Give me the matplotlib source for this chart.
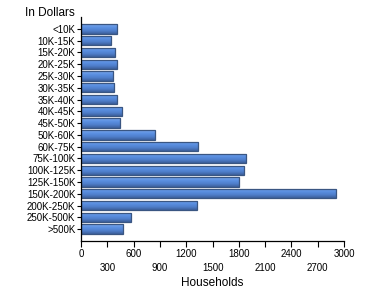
import matplotlib.pyplot as plt
import numpy as np
from matplotlib.ticker import FixedLocator
from matplotlib.colors import LinearSegmentedColormap

plt.rcParams['font.family'] = ['Liberation Sans', 'DejaVu Sans']

categories = ["<10K", "10K-15K", "15K-20K", "20K-25K", "25K-30K", "30K-35K",
              "35K-40K", "40K-45K", "45K-50K", "50K-60K", "60K-75K", "75K-100K",
              "100K-125K", "125K-150K", "150K-200K", "200K-250K", "250K-500K", ">500K"]
households = [415, 347, 392, 415, 369, 381, 415, 472, 449, 848, 1339, 1886,
              1863, 1806, 2912, 1327, 575, 483]
major_ticks = [0, 600, 1200, 1800, 2400, 3000]
minor_ticks = [300, 900, 1500, 2100, 2700]

fig = plt.figure(figsize=(3.7, 3.0), dpi=100)
ax = fig.add_axes([0.219, 0.197, 0.711, 0.746])

y = np.arange(len(categories))
bars = ax.barh(y, households, height=0.8, color="#5b8ad8", edgecolor="#3a5682", linewidth=0.9)

# shiny vertical gradient inside each bar
shine = LinearSegmentedColormap.from_list("shine", ["#7aa6ea", "#5b90e2", "#4f7fcc", "#3d609c"])
grad = np.linspace(0, 1, 32).reshape(-1, 1)
for b in bars:
    x0, y0 = b.get_x(), b.get_y()
    im = ax.imshow(grad, cmap=shine, aspect="auto", origin="lower",
                   extent=[x0, x0 + b.get_width(), y0, y0 + b.get_height()], zorder=b.get_zorder())
    im.set_clip_path(b)
    b.set_facecolor("none")
    b.set_zorder(b.get_zorder() + 0.1)

ax.set_ylim(len(categories), -1)
ax.set_xlim(0, 3000)
ax.set_yticks(y)
ax.set_yticklabels(categories, fontsize=7)

# two rows of x labels, alternating
ax.xaxis.set_major_locator(FixedLocator(major_ticks))
ax.xaxis.set_minor_locator(FixedLocator(minor_ticks))
ax.set_xticklabels([str(v) for v in major_ticks], fontsize=7)
ax.set_xticklabels([str(v) for v in minor_ticks], minor=True, fontsize=7)
ax.tick_params(axis="x", which="major", length=4, width=0.8, pad=2)
ax.tick_params(axis="x", which="minor", length=4, width=0.8, pad=12)
ax.tick_params(axis="y", length=3, width=0.8, pad=1)

for s in ["top", "right"]:
    ax.spines[s].set_visible(False)
for s in ["left", "bottom"]:
    ax.spines[s].set_linewidth(0.9)

ax.set_xlabel("Households", fontsize=8.5, labelpad=3)
fig.text(0.068, 0.975, "In Dollars", fontsize=8.5, va="top", ha="left")

fig.savefig("out.png", dpi=100)
